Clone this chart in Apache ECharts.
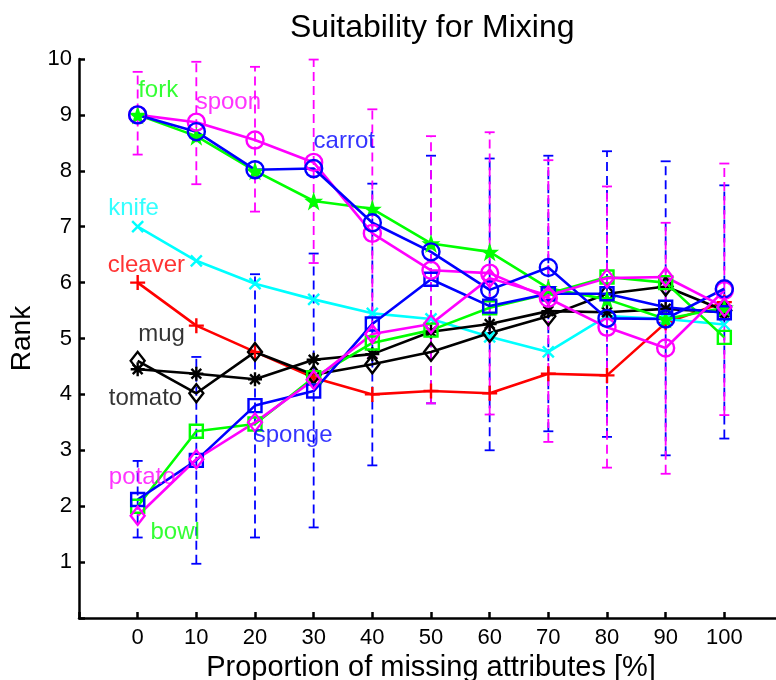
<!DOCTYPE html>
<html>
<head>
  <meta charset="UTF-8">
  <title>Suitability for Mixing</title>
  <style>
    html, body { margin: 0; padding: 0; background: #fff; }
    #chart { width: 776px; height: 680px; }
  </style>
  <script type="text/javascript" src="https://cdn.jsdelivr.net/npm/echarts@6/dist/echarts.min.js"></script>
</head>
<body>
<div id="chart"></div>
<script>
  // missing attributes [%]
  var xs = [0, 10, 20, 30, 40, 50, 60, 70, 80, 90, 100];

  var fork    = [9.00, 8.62, 8.00, 7.46, 7.32, 6.70, 6.55, 5.90, 5.70, 5.35, 5.55];
  var spoon   = [9.00, 8.87, 8.55, 8.15, 6.88, 6.22, 6.17, 5.72, 5.20, 4.83, 5.86];
  var carrot  = [9.00, 8.70, 8.02, 8.04, 7.07, 6.55, 5.87, 6.27, 5.36, 5.35, 5.89];
  var knife   = [7.00, 6.39, 5.98, 5.70, 5.45, 5.35, 5.03, 4.76, 5.40, 5.35, 5.25];
  var cleaver = [6.00, 5.23, 4.76, 4.30, 4.00, 4.06, 4.02, 4.37, 4.34, 5.28, 5.65];
  var mug     = [4.45, 4.37, 4.27, 4.62, 4.72, 5.12, 5.26, 5.49, 5.47, 5.53, 5.47];
  var tomato  = [4.60, 4.02, 4.76, 4.35, 4.54, 4.76, 5.10, 5.40, 5.80, 5.93, 5.50];
  var sponge  = [2.12, 2.82, 3.80, 4.06, 5.26, 6.06, 5.58, 5.80, 5.80, 5.56, 5.46];
  var potato  = [1.83, 2.84, 3.50, 4.26, 5.08, 5.26, 6.08, 5.77, 6.08, 6.10, 5.56];
  var bowl    = [2.00, 3.34, 3.47, 4.30, 4.92, 5.15, 5.55, 5.80, 6.10, 6.00, 5.02];

  // error bars (spoon = magenta, sponge = blue)
  var spoonLow   = [8.29, 7.76, 7.27, 6.35, 4.66, 3.84, 3.64, 3.15, 2.69, 2.58, 3.63];
  var spoonHigh  = [9.77, 9.95, 9.86, 9.99, 9.10, 8.62, 8.69, 8.19, 7.72, 7.07, 8.13];
  var spongeLow  = [1.44, 0.97, 1.44, 1.62, 2.73, 3.84, 3.00, 3.34, 3.24, 2.91, 3.21];
  var spongeHigh = [2.81, 4.67, 6.15, 6.52, 7.77, 8.27, 8.22, 8.27, 8.35, 8.17, 7.74];

  // text labels in the plot, in data units (left edge, middle)
  var labelNames = ['fork', 'spoon', 'carrot', 'knife', 'cleaver', 'mug', 'tomato', 'sponge', 'potato', 'bowl'];
  var labelX     = [0, 9.8, 29.9, -5.1, -5.2, 0, -5.0, 19.7, -5.0, 2.1];
  var labelY     = [9.44, 9.23, 8.53, 7.33, 6.30, 5.08, 3.93, 3.27, 2.51, 1.53];

  var GREEN = '#00ff00', MAG = '#ff00ff', BLUE = '#0000ff', CYAN = '#00ffff', RED = '#ff0000', BLACK = '#000000';
  var labelColors = [GREEN, MAG, BLUE, CYAN, RED, BLACK, BLACK, BLUE, MAG, GREEN];
  var FONT = 'Liberation Sans, Arial, Helvetica, sans-serif';

  var STAR = 'path://M50,0L61.8,35.1L98.1,35.1L68.8,56.7L79.4,91L50,70L20.6,91L31.2,56.7L1.9,35.1L38.2,35.1Z';
  var CROSS = 'path://M0,0L10,10M10,0L0,10';
  var PLUS = 'path://M5,0L5,10M0,5L10,5';
  var ASTER = 'path://M5,0L5,10M0,5L10,5M1.5,1.5L8.5,8.5M8.5,1.5L1.5,8.5';

  function pairs(arr) {
    return xs.map(function (x, i) { return [x, arr[i]]; });
  }
  function bars(lo, hi) {
    return xs.map(function (x, i) { return [x, lo[i], hi[i]]; });
  }

  function errRender(color) {
    return function (params, api) {
      var x = api.value(0);
      var lo = api.coord([x, api.value(1)]);
      var hi = api.coord([x, api.value(2)]);
      var w = 5;
      var cap = { stroke: color, lineWidth: 1.8, fill: null };
      return {
        type: 'group',
        children: [
          { type: 'line', shape: { x1: lo[0], y1: lo[1], x2: hi[0], y2: hi[1] },
            style: { stroke: color, lineWidth: 1.8, lineDash: [9, 5], fill: null } },
          { type: 'line', shape: { x1: hi[0] - w, y1: hi[1], x2: hi[0] + w, y2: hi[1] }, style: cap },
          { type: 'line', shape: { x1: lo[0] - w, y1: lo[1], x2: lo[0] + w, y2: lo[1] }, style: cap }
        ]
      };
    };
  }

  function lineSeries(name, data, color, symbol, size, filled) {
    return {
      name: name,
      type: 'line',
      data: pairs(data),
      symbol: symbol,
      symbolSize: size,
      showAllSymbol: true,
      lineStyle: { color: color, width: 2.6 },
      itemStyle: {
        color: filled ? color : 'rgba(0,0,0,0)',
        borderColor: color,
        borderWidth: filled ? 0 : 2.4
      },
      emphasis: { disabled: true },
      z: 3
    };
  }

  var chart = echarts.init(document.getElementById('chart'));

  var series = [
    {
      type: 'custom', name: 'sponge err', data: bars(spongeLow, spongeHigh),
      renderItem: errRender(BLUE), encode: { x: 0, y: [1, 2] }, z: 1
    },
    {
      type: 'custom', name: 'spoon err', data: bars(spoonLow, spoonHigh),
      renderItem: errRender(MAG), encode: { x: 0, y: [1, 2] }, z: 1
    },
    lineSeries('cleaver', cleaver, RED, PLUS, 15, false),
    lineSeries('knife', knife, CYAN, CROSS, 11, false),
    lineSeries('mug', mug, BLACK, ASTER, 14, false),
    lineSeries('tomato', tomato, BLACK, 'diamond', [14, 18], false),
    lineSeries('bowl', bowl, GREEN, 'rect', 13, false),
    lineSeries('fork', fork, GREEN, STAR, 19, true),
    lineSeries('sponge', sponge, BLUE, 'rect', 13, false),
    lineSeries('spoon', spoon, MAG, 'circle', 17, false),
    lineSeries('carrot', carrot, BLUE, 'circle', 17, false),
    lineSeries('potato', potato, MAG, 'diamond', [14, 18], false),
    {
      type: 'scatter',
      name: 'labels',
      symbolSize: 1,
      itemStyle: { color: 'rgba(0,0,0,0)' },
      z: 5,
      data: labelNames.map(function (n, i) {
        return {
          value: [labelX[i], labelY[i]],
          name: n,
          label: { color: labelColors[i] }
        };
      }),
      label: {
        show: true,
        position: 'right',
        distance: 0,
        formatter: '{b}',
        fontFamily: FONT,
        fontSize: 24
      },
      emphasis: { disabled: true }
    }
  ];

  var option = {
    animation: false,
    backgroundColor: '#fff',
    title: {
      text: 'Suitability for Mixing',
      left: 285,
      top: 7,
      textStyle: { fontFamily: FONT, fontSize: 32, fontWeight: 'normal', color: '#000' }
    },
    grid: {
      left: 79,
      top: 59,
      width: 704,
      height: 559,
      containLabel: false,
      outerBoundsMode: 'none'
    },
    xAxis: {
      type: 'value',
      min: -10,
      max: 110,
      interval: 10,
      name: 'Proportion of missing attributes [%]',
      nameLocation: 'middle',
      nameGap: 28,
      nameTextStyle: { fontFamily: FONT, fontSize: 29, color: '#000' },
      axisLine: { onZero: false, lineStyle: { color: '#000', width: 2.5 } },
      axisTick: { inside: true, length: 6, lineStyle: { color: '#000', width: 2.5 } },
      axisLabel: {
        margin: 9,
        fontFamily: FONT,
        fontSize: 22,
        color: '#000',
        formatter: function (v) { return (v < 0 || v > 100) ? '' : v; }
      },
      splitLine: { show: false }
    },
    yAxis: {
      type: 'value',
      min: 0,
      max: 10,
      interval: 1,
      name: 'Rank',
      nameLocation: 'middle',
      nameGap: 37,
      nameTextStyle: { fontFamily: FONT, fontSize: 28, color: '#000' },
      axisLine: { show: true, onZero: false, lineStyle: { color: '#000', width: 2.5 } },
      axisTick: { show: true, inside: true, length: 6, lineStyle: { color: '#000', width: 2.5 } },
      axisLabel: {
        margin: 7,
        fontFamily: FONT,
        fontSize: 22,
        color: '#000',
        formatter: function (v) { return v === 0 ? '' : v; }
      },
      splitLine: { show: false }
    },
    series: series
  };

  chart.setOption(option);
</script>
</body>
</html>
